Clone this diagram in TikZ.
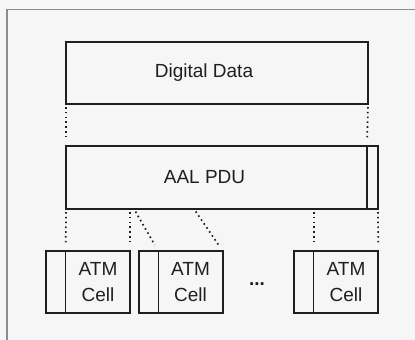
\documentclass[tikz,border=0pt]{standalone}
\usepackage{fontspec}
\setmainfont{Liberation Sans}
\usetikzlibrary{positioning}
\definecolor{ink}{gray}{0.12}
\definecolor{paper}{gray}{0.965}
\definecolor{framegray}{gray}{0.55}

\begin{document}
\begin{tikzpicture}[x=1pt, y=-1pt,
  every node/.style={font=\fontsize{19}{25.5}\selectfont, text=ink},
  field/.style={minimum height=62pt, inner sep=0pt, outer sep=0pt},
  box/.style={draw=ink, line width=1.8pt},
  split/.style={draw=ink, line width=1.1pt},
  dots/.style={draw=ink, line width=1.7pt, dash pattern=on 1.6pt off 3.2pt,
    shorten <=3pt, shorten >=7pt}]

  % paper and frame
  \fill[paper] (0,0) rectangle (415,340);
  \useasboundingbox (0,0) rectangle (415,340);
  \draw[framegray, line width=1.5pt] (7,340) -- (7,9.5) -- (415,9.5);

  % Top: digital data
  \node[field, minimum width=302pt, label={[xshift=-13pt]center:Digital Data}] (digital) at (217,73) {};
  \draw[box, line width=2pt] (digital.north west) rectangle (digital.south east);

  % Middle: AAL PDU with trailer
  \node[field, minimum height=63pt, minimum width=301pt, label={[xshift=-12pt]center:AAL PDU}] (aal) at (216.5,177.5) {};
  \node[field, minimum height=63pt, minimum width=11pt, right=0pt of aal] (trailer) {};
  \draw[box] (aal.north west) rectangle (trailer.south east);
  \draw[split] (aal.north east) -- (aal.south east);

  % Bottom: ATM cells
  \node[field, minimum width=64.5pt, align=center] (cell1) at (98,282) {ATM\\Cell};
  \node[field, minimum width=19.5pt, left=0pt of cell1] (hdr1) {};
  \node[field, minimum width=64.5pt, align=center] (cell2) at (190.5,282) {ATM\\Cell};
  \node[field, minimum width=19.5pt, left=0pt of cell2] (hdr2) {};
  \node[field, minimum width=64.5pt, align=center] (cell3) at (346,282) {ATM\\Cell};
  \node[field, minimum width=19.5pt, left=0pt of cell3] (hdr3) {};
  \foreach \c in {1,2,3} {
    \draw[box] (hdr\c.north west) rectangle (cell\c.south east);
    \draw[split] (hdr\c.north east) -- (hdr\c.south east);
  }
  \node[anchor=base] (more) at (257,285) {\textbf{...}};

  % Dotted mappings
  \draw[dots] (digital.south west) -- (aal.north west);
  \draw[dots] (digital.south east) -- (aal.north east);
  \coordinate (cut2) at (134,209);
  \coordinate (cut3) at (194,209);
  \draw[dots] (aal.south west) -- (cell1.north west);
  \draw[dots] (cell1.north east |- aal.south) -- (cell1.north east);
  \draw[dots] (cut2) -- (cell2.north west);
  \draw[dots] (cut3) -- (cell2.north east);
  \draw[dots] (cell3.north west |- aal.south) -- (cell3.north west);
  \draw[dots] (trailer.south east) -- (cell3.north east);
\end{tikzpicture}
\end{document}
